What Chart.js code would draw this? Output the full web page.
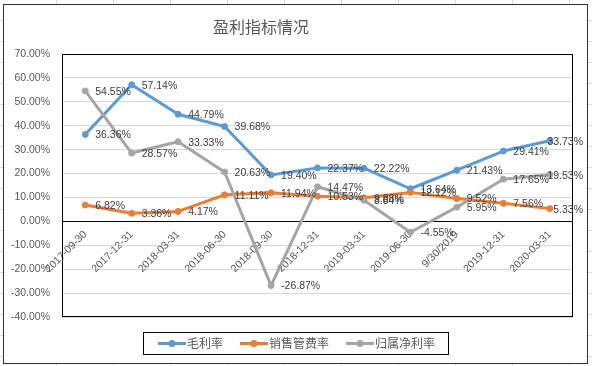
<!DOCTYPE html>
<html>
<head>
<meta charset="utf-8">
<script src="https://cdn.jsdelivr.net/npm/chart.js@4.4.0/dist/chart.umd.min.js"></script>
<style>
html, body { margin: 0; padding: 0; }
body {
  width: 592px; height: 366px; overflow: hidden; position: relative; background: #fff;
  background-image:
    repeating-linear-gradient(to bottom, transparent 0 20px, #dadada 20px 21px),
    repeating-linear-gradient(to right, transparent 0 56px, #dadada 56px 57px);
}
#frame { position: absolute; left: 3px; top: 4px; width: 583px; height: 358px; border: 1px solid #333; background: #fff; }
canvas { display: block; }
</style>
</head>
<body>
<div id="frame"><canvas id="chart" width="583" height="358"></canvas></div>
<script>
// data
var dates = ["2017-09-30", "2017-12-31", "2018-03-31", "2018-06-30", "2018-09-30", "2018-12-31",
             "2019-03-31", "2019-06-30", "9/30/2019", "2019-12-31", "2020-03-31"];
var grossMargin = [36.36, 57.14, 44.79, 39.68, 19.40, 22.37, 22.22, 13.64, 21.43, 29.41, 33.73];
var expenseRate = [6.82, 3.36, 4.17, 11.11, 11.94, 10.53, 9.88, 12.12, 9.52, 7.56, 5.33];
var netMargin = [54.55, 28.57, 33.33, 20.63, -26.87, 14.47, 8.84, -4.55, 5.95, 17.65, 19.53];
var seriesNames = ["毛利率", "销售管费率", "归属净利率"];
var chartTitle = "盈利指标情况";

var numFont = '"Liberation Sans", "Noto Sans CJK SC", sans-serif';
var cjkFont = '"Noto Sans CJK SC", sans-serif';

function series(label, data, color, order) {
  return {
    label: label, data: data, borderColor: color, backgroundColor: color,
    borderWidth: 3, pointRadius: 3, pointBorderWidth: 1, pointBackgroundColor: color,
    borderJoinStyle: "round", tension: 0, order: order
  };
}

// title drawn off-centre like the excel one
var titlePlugin = {
  id: "xlTitle",
  afterDraw: function(chart) {
    var ctx = chart.ctx;
    ctx.save();
    ctx.font = "16px " + cjkFont;
    ctx.fillStyle = "#595959";
    ctx.textAlign = "center";
    ctx.textBaseline = "middle";
    ctx.fillText(chartTitle, 257, 22);
    ctx.restore();
  }
};

var plotBorder = {
  id: "plotBorder",
  beforeDatasetsDraw: function(chart) {
    var a = chart.chartArea, ctx = chart.ctx;
    ctx.save();
    ctx.strokeStyle = "#000";
    ctx.lineWidth = 1;
    ctx.strokeRect(Math.round(a.left) + 0.5, Math.round(a.top) + 0.5, Math.round(a.right - a.left) - 1, Math.round(a.bottom - a.top) - 1);
    ctx.restore();
  }
};

// labels sit right of each point, pushed back inside the frame when they'd run off
var pointLabels = {
  id: "pointLabels",
  afterDatasetsDraw: function(chart) {
    var ctx = chart.ctx;
    var maxRight = chart.width - 4;
    ctx.save();
    ctx.font = "10.5px " + numFont;
    ctx.fillStyle = "#404040";
    ctx.textAlign = "left";
    ctx.textBaseline = "middle";
    chart.data.datasets.forEach(function(ds, i) {
      chart.getDatasetMeta(i).data.forEach(function(pt, j) {
        var txt = ds.data[j].toFixed(2) + "%";
        var x = Math.min(pt.x + 10, maxRight - ctx.measureText(txt).width);
        ctx.fillText(txt, x, pt.y + 1);
      });
    });
    ctx.restore();
  }
};

var xlLegend = {
  id: "xlLegend",
  afterDraw: function(chart) {
    var ctx = chart.ctx;
    ctx.save();
    ctx.font = "12px " + cjkFont;
    var items = chart.data.datasets.map(function(ds) {
      return { text: ds.label, color: ds.borderColor, w: ctx.measureText(ds.label).width };
    });
    var sw = 28, gap = 1, sp = 17, padL = 15, padR = 13, top = 327, h = 22;
    var total = padL + padR + sp * (items.length - 1);
    items.forEach(function(it) { total += sw + gap + it.w; });
    var x0 = Math.round(chart.width / 2 - total / 2);
    ctx.strokeStyle = "#000";
    ctx.lineWidth = 1;
    ctx.strokeRect(x0 + 0.5, top + 0.5, Math.round(total), h);
    var x = x0 + padL, cy = top + h / 2 + 0.5;
    items.forEach(function(it) {
      ctx.strokeStyle = it.color;
      ctx.lineWidth = 3;
      ctx.beginPath(); ctx.moveTo(x, cy); ctx.lineTo(x + sw, cy); ctx.stroke();
      ctx.fillStyle = it.color;
      ctx.beginPath(); ctx.arc(x + sw / 2, cy, 3.5, 0, Math.PI * 2); ctx.fill();
      ctx.fillStyle = "#595959";
      ctx.textAlign = "left";
      ctx.textBaseline = "middle";
      ctx.fillText(it.text, x + sw + gap, cy);
      x += sw + gap + it.w + sp;
    });
    ctx.restore();
  }
};

new Chart(document.getElementById("chart"), {
  type: "line",
  data: {
    labels: dates,
    datasets: [
      series(seriesNames[0], grossMargin, "#5B9BD5", 2),
      series(seriesNames[1], expenseRate, "#ED7D31", 1),
      series(seriesNames[2], netMargin, "#A5A5A5", 0)
    ]
  },
  options: {
    responsive: false,
    animation: false,
    layout: { padding: { left: 0, right: 14, top: 49, bottom: 46 } },
    plugins: { legend: { display: false }, title: { display: false }, tooltip: { enabled: false } },
    scales: {
      x: {
        type: "category",
        offset: true,
        position: { y: 0 },
        grid: { display: true, drawOnChartArea: false, drawTicks: true, tickLength: 4, color: "transparent" },
        border: { display: false },
        ticks: { autoSkip: false, minRotation: 45, maxRotation: 45, color: "#595959", font: { family: numFont, size: 10.5 } }
      },
      y: {
        min: -40, max: 70,
        afterFit: function(s) { s.width = 58; },
        grid: {
          drawTicks: false,
          color: function(c) { return c.tick && c.tick.value === 0 ? "#000" : "#d9d9d9"; }
        },
        border: { display: false },
        ticks: {
          stepSize: 10, padding: 12, color: "#595959", font: { family: numFont, size: 10.5 },
          callback: function(v) { return v.toFixed(2) + "%"; }
        }
      }
    }
  },
  plugins: [plotBorder, pointLabels, titlePlugin, xlLegend]
});
</script>
</body>
</html>
